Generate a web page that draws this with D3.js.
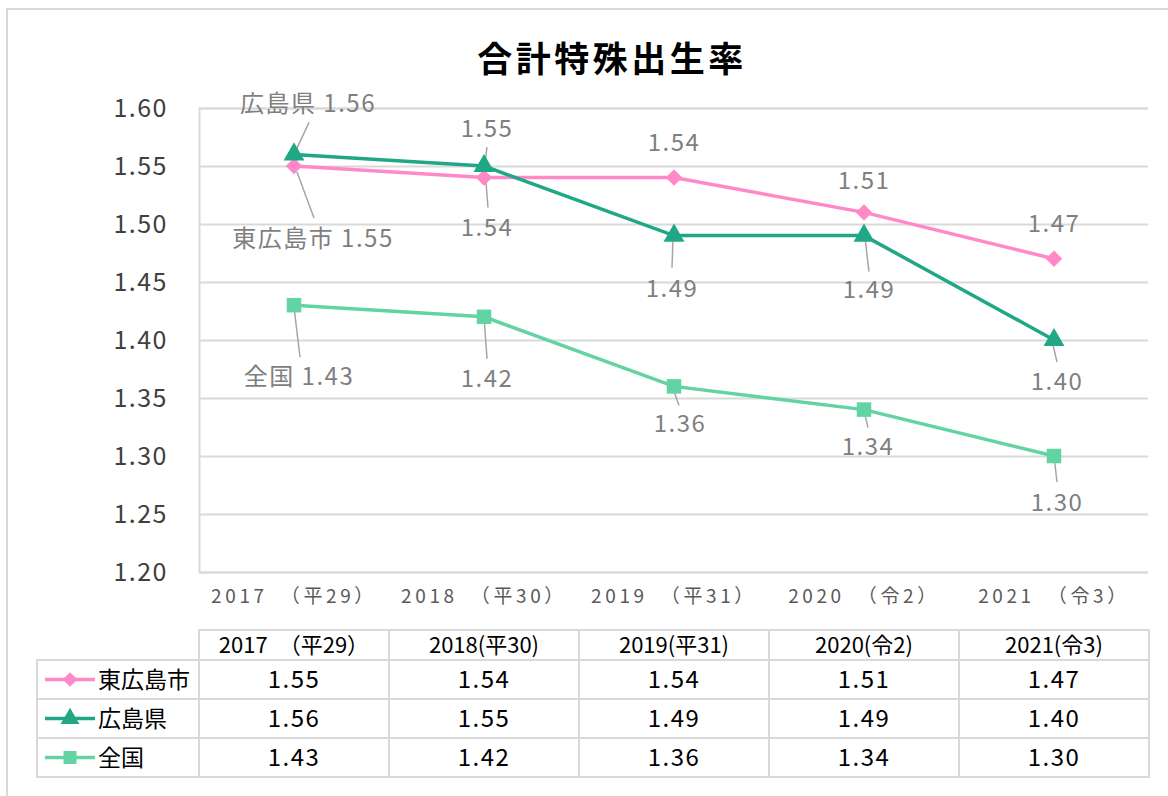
<!DOCTYPE html>
<html><head><meta charset="utf-8">
<script src="https://cdn.jsdelivr.net/npm/d3@7"></script>
<style>body{margin:0;background:#fff}</style></head>
<body><svg id="c" width="1168" height="796"></svg>
<script>
const categories = ["2017","2018","2019","2020","2021"];
const axisLabels = ["2017　（平29）","2018　（平30）","2019　（平31）","2020　（令2）","2021　（令3）"];
const tableHeaders = ["2017　（平29）","2018(平30)","2019(平31)","2020(令2)","2021(令3)"];
const seriesNames = ["東広島市","広島県","全国"];
const higashihiroshimaValues = [1.55,1.54,1.54,1.51,1.47];
const hiroshimaValues = [1.56,1.55,1.49,1.49,1.40];
const zenkokuValues = [1.43,1.42,1.36,1.34,1.30];
const yTickValues = [1.20,1.25,1.30,1.35,1.40,1.45,1.50,1.55,1.60];
const title = "合計特殊出生率";

// layout config (label placement offsets relative to points)
const labelLayout = [
  [{d:[19,72],l:[3,6,20,52],name:true},{d:[3,50],l:[2,5,4,30]},{d:[0,-35]},{d:[0,-32]},{d:[0,-35]}],
  [{d:[14,-51],l:[15,-32,2,-4],name:true},{d:[3,-38],l:[3,-19,1,-3]},{d:[-2,53],l:[-1,2,-2,32]},{d:[5,54],l:[1,2,5,36]},{d:[3,41],l:[-1,5,3,22]}],
  [{d:[5,71],l:[0,2,6,52],name:true},{d:[3,62],l:[0,0,3,42]},{d:[6,37],l:[-1,2,5,19]},{d:[4,37],l:[0,1,4,18]},{d:[3,46],l:[0,0,3,26]}]
];
const colors = ["#ff88c8","#20a886","#62d3a2"];
const markers = ["diamond","triangle","square"];
const seriesValues = [higashihiroshimaValues, hiroshimaValues, zenkokuValues];

const numFont = "'Liberation Sans Narrow','Noto Sans CJK JP',sans-serif";
const cjkFont = "'Noto Sans CJK JP',sans-serif";

const svg = d3.select("#c");
svg.append("rect").attr("x",7).attr("y",9).attr("width",1200).attr("height",820)
  .attr("fill","#fff").attr("stroke","#d9d9d9").attr("stroke-width",2);

svg.append("text").attr("x",612).attr("y",72).attr("text-anchor","middle")
  .attr("font-family",cjkFont).attr("font-weight","bold").attr("font-size",35)
  .attr("letter-spacing",3.5).attr("fill","#000").text(title);

const x = d3.scaleBand().domain(categories).range([199,1149]);
const y = d3.scaleLinear().domain([1.2,1.6]).range([572,108]);
const cx = c => x(c) + x.bandwidth()/2;

// grid
const yAxis = d3.axisLeft(y).tickValues(yTickValues).tickSize(-(1148-199)).tickFormat(d3.format(".2f"));
const ga = svg.append("g").attr("transform","translate(199,0)").call(yAxis);
ga.select(".domain").attr("stroke","#d9d9d9").attr("stroke-width",2);
ga.selectAll(".tick line").attr("stroke","#d9d9d9").attr("stroke-width",2);
ga.selectAll(".tick text").attr("x",-31).attr("font-family",numFont).attr("font-size",25)
  .attr("letter-spacing",1.5).attr("fill","#404040");

// x axis labels
const xa = d3.axisBottom(x).tickSize(0).tickFormat((d,i)=>axisLabels[i]);
const gx = svg.append("g").attr("transform","translate(0,572)").call(xa);
gx.select(".domain").remove();
gx.selectAll(".tick text").attr("y",18).attr("dy","0.71em").attr("font-family",numFont)
  .attr("font-size",19).attr("letter-spacing",3.6).attr("fill","#595959");

// lines
const line = d3.line().x((d,i)=>cx(categories[i])).y(d=>y(d));
function markerPath(type, size){
  const sym = type==="triangle"? d3.symbolTriangle : d3.symbolSquare;
  return d3.symbol().type(sym).size(size)();
}
const msize = {diamond:135, triangle:190, square:210};
const mrot = {diamond:45, triangle:0, square:0};

// leader lines
seriesValues.forEach((vals,s)=>{
  vals.forEach((v,i)=>{
    const L = labelLayout[s][i];
    const px = cx(categories[i]), py = y(v);
    if(L.l){
      svg.append("line").attr("x1",px+L.l[0]).attr("y1",py+L.l[1]).attr("x2",px+L.l[2]).attr("y2",py+L.l[3])
        .attr("stroke","#a6a6a6").attr("stroke-width",1.5);
    }
  });
});
seriesValues.forEach((vals,s)=>{
  svg.append("path").attr("d",line(vals)).attr("fill","none").attr("stroke",colors[s]).attr("stroke-width",3.5);
  vals.forEach((v,i)=>{
    svg.append("path").attr("d",markerPath(markers[s],msize[markers[s]]))
      .attr("transform",`translate(${cx(categories[i])},${y(v)}) rotate(${mrot[markers[s]]})`).attr("fill",colors[s]);
  });
});
seriesValues.forEach((vals,s)=>{
  vals.forEach((v,i)=>{
    const L = labelLayout[s][i];
    const px = cx(categories[i]), py = y(v);
    svg.append("text").attr("x",px+L.d[0]).attr("y",py+L.d[1]).attr("dy","0.36em")
      .attr("text-anchor","middle").attr("font-family",numFont).attr("font-size",24)
      .attr("letter-spacing",1.5).attr("fill","#7f7f7f")
      .text((L.name? seriesNames[s]+" " : "") + v.toFixed(2));
  });
});

// table
const tTop = 630, hH = 30, rH = 39, legL = 37;
const tg = svg.append("g");
const gridC = "#d9d9d9";
categories.forEach((c,i)=>{
  tg.append("rect").attr("x",x(c)).attr("y",tTop).attr("width",x.bandwidth()).attr("height",hH)
    .attr("fill","none").attr("stroke",gridC).attr("stroke-width",2);
  tg.append("text").attr("x",cx(c)).attr("y",tTop+hH/2).attr("dy","0.36em").attr("text-anchor","middle")
    .attr("font-family",numFont).attr("font-size",22).attr("fill","#000").text(tableHeaders[i]);
});
seriesNames.forEach((n,s)=>{
  const ry = tTop+hH+s*rH;
  tg.append("rect").attr("x",legL).attr("y",ry).attr("width",199-legL).attr("height",rH)
    .attr("fill","none").attr("stroke",gridC).attr("stroke-width",2);
  tg.append("line").attr("x1",45).attr("x2",95).attr("y1",ry+rH/2).attr("y2",ry+rH/2)
    .attr("stroke",colors[s]).attr("stroke-width",3.5);
  tg.append("path").attr("d",markerPath(markers[s],msize[markers[s]]*0.8))
    .attr("transform",`translate(70,${ry+rH/2}) rotate(${mrot[markers[s]]})`).attr("fill",colors[s]);
  tg.append("text").attr("x",98).attr("y",ry+rH/2).attr("dy","0.36em")
    .attr("font-family",cjkFont).attr("font-size",23).attr("fill","#000").text(n);
  categories.forEach((c,i)=>{
    tg.append("rect").attr("x",x(c)).attr("y",ry).attr("width",x.bandwidth()).attr("height",rH)
      .attr("fill","none").attr("stroke",gridC).attr("stroke-width",2);
    tg.append("text").attr("x",cx(c)).attr("y",ry+rH/2).attr("dy","0.36em").attr("text-anchor","middle")
      .attr("font-family",numFont).attr("font-size",24).attr("letter-spacing",1.5).attr("fill","#000")
      .text(seriesValues[s][i].toFixed(2));
  });
});
</script>
</body></html>
